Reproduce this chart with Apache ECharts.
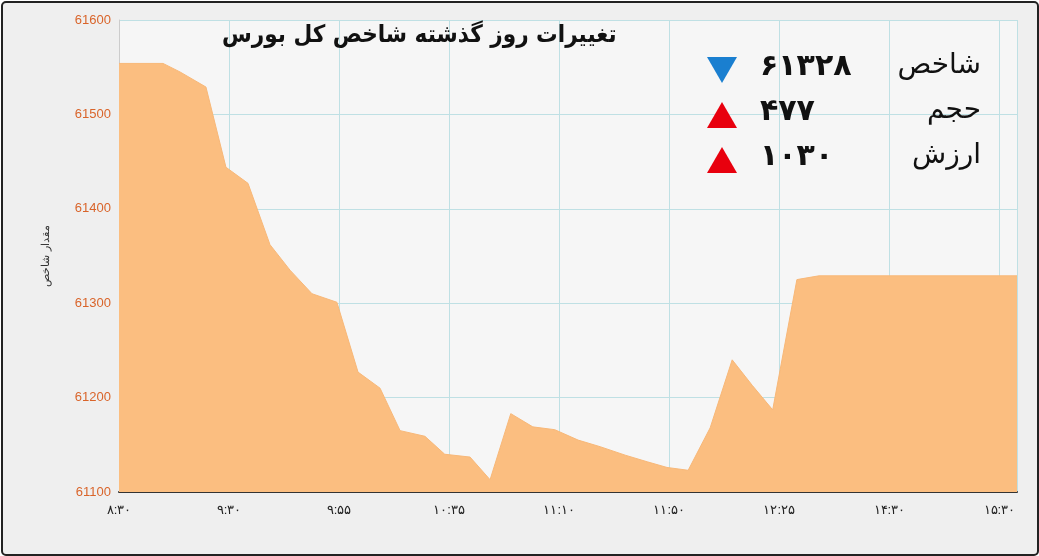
<!DOCTYPE html><html><head><meta charset="utf-8"><script src="https://cdn.jsdelivr.net/npm/echarts@6/dist/echarts.min.js"></script>
<style>html,body{margin:0;padding:0;background:#fff}#c{width:1039px;height:556px}</style></head><body><div id="c"></div><script>
const xs=[0,2,2.77,3.95,4.86,5.86,6.86,7.77,8.77,9.9,10.86,11.86,12.77,13.9,14.8,15.95,16.86,17.8,18.8,19.8,20.86,21.86,23,24,24.9,25.86,26.86,27.86,28.77,29.7,30.8,31.8,40.8];
const values=[61554,61554,61545,61529,61444,61427,61362,61335,61310,61301,61227,61210,61165,61159,61140,61137,61113,61183,61169,61166,61155,61148,61139,61132,61126,61123,61168,61240,61213,61187,61325,61329,61329];
const tickLabels=['۸:۳۰','۹:۳۰','۹:۵۵','۱۰:۳۵','۱۱:۱۰','۱۱:۵۰','۱۲:۲۵','۱۴:۳۰','۱۵:۳۰'];
const legendNames=['شاخص','حجم','ارزش'];
const legendValues=['۶۱۳۲۸','۴۷۷','۱۰۳۰'];
const legendUp=[false,true,true];
const title='تغییرات روز گذشته شاخص کل بورس';
const c=echarts.init(document.getElementById('c'));
const g=[{type:'rect',left:1,top:1,shape:{width:1036,height:553,r:4},style:{fill:'#efefef',stroke:'#222',lineWidth:2},z:-10},
{type:'text',left:222,top:24,style:{text:title,font:'bold 24px "DejaVu Sans Condensed"',fill:'#111'},z:10}];
legendNames.forEach((n,i)=>{const y=70+i*45;
g.push({type:'text',right:58,top:y-18,style:{text:n,font:'28px "DejaVu Sans"',fill:'#111'},z:10});
g.push({type:'text',left:760,top:y-18,style:{text:legendValues[i],font:'bold 30px "DejaVu Sans"',fill:'#111'},z:10});
g.push({type:'polygon',shape:{points:legendUp[i]?[[707,y+13],[737,y+13],[722,y-13]]:[[707,y-13],[737,y-13],[722,y+13]]},style:{fill:legendUp[i]?'#e8000e':'#1a7fd0'},z:10});});
c.setOption({animation:false,graphic:g,
grid:{left:119,right:22,top:20,bottom:64,backgroundColor:'#f6f6f6',show:true,borderWidth:0},
xAxis:{type:'value',min:0,max:40.8,interval:5,axisLine:{show:true,lineStyle:{color:'#333',width:2}},axisTick:{show:false},
splitLine:{show:true,lineStyle:{color:'#bfe0e4'}},axisLabel:{color:'#222',fontSize:13,margin:12,showMaxLabel:false,formatter:v=>tickLabels[Math.round(v/5)]||''}},
yAxis:{type:'value',min:61100,max:61600,interval:100,name:'مقدار شاخص',nameLocation:'middle',nameGap:68,nameTextStyle:{fontSize:11,color:'#333'},
axisLine:{show:true,lineStyle:{color:'#ccc'}},axisTick:{show:false},splitLine:{lineStyle:{color:'#bfe0e4'}},axisLabel:{color:'#d9642a',fontSize:13,formatter:v=>String(v)}},
series:[{type:'line',data:xs.map((x,i)=>[x,values[i]]),symbol:'none',lineStyle:{color:'#f8b878',width:1},areaStyle:{color:'#fbbe80',opacity:1}}]});
</script></body></html>
